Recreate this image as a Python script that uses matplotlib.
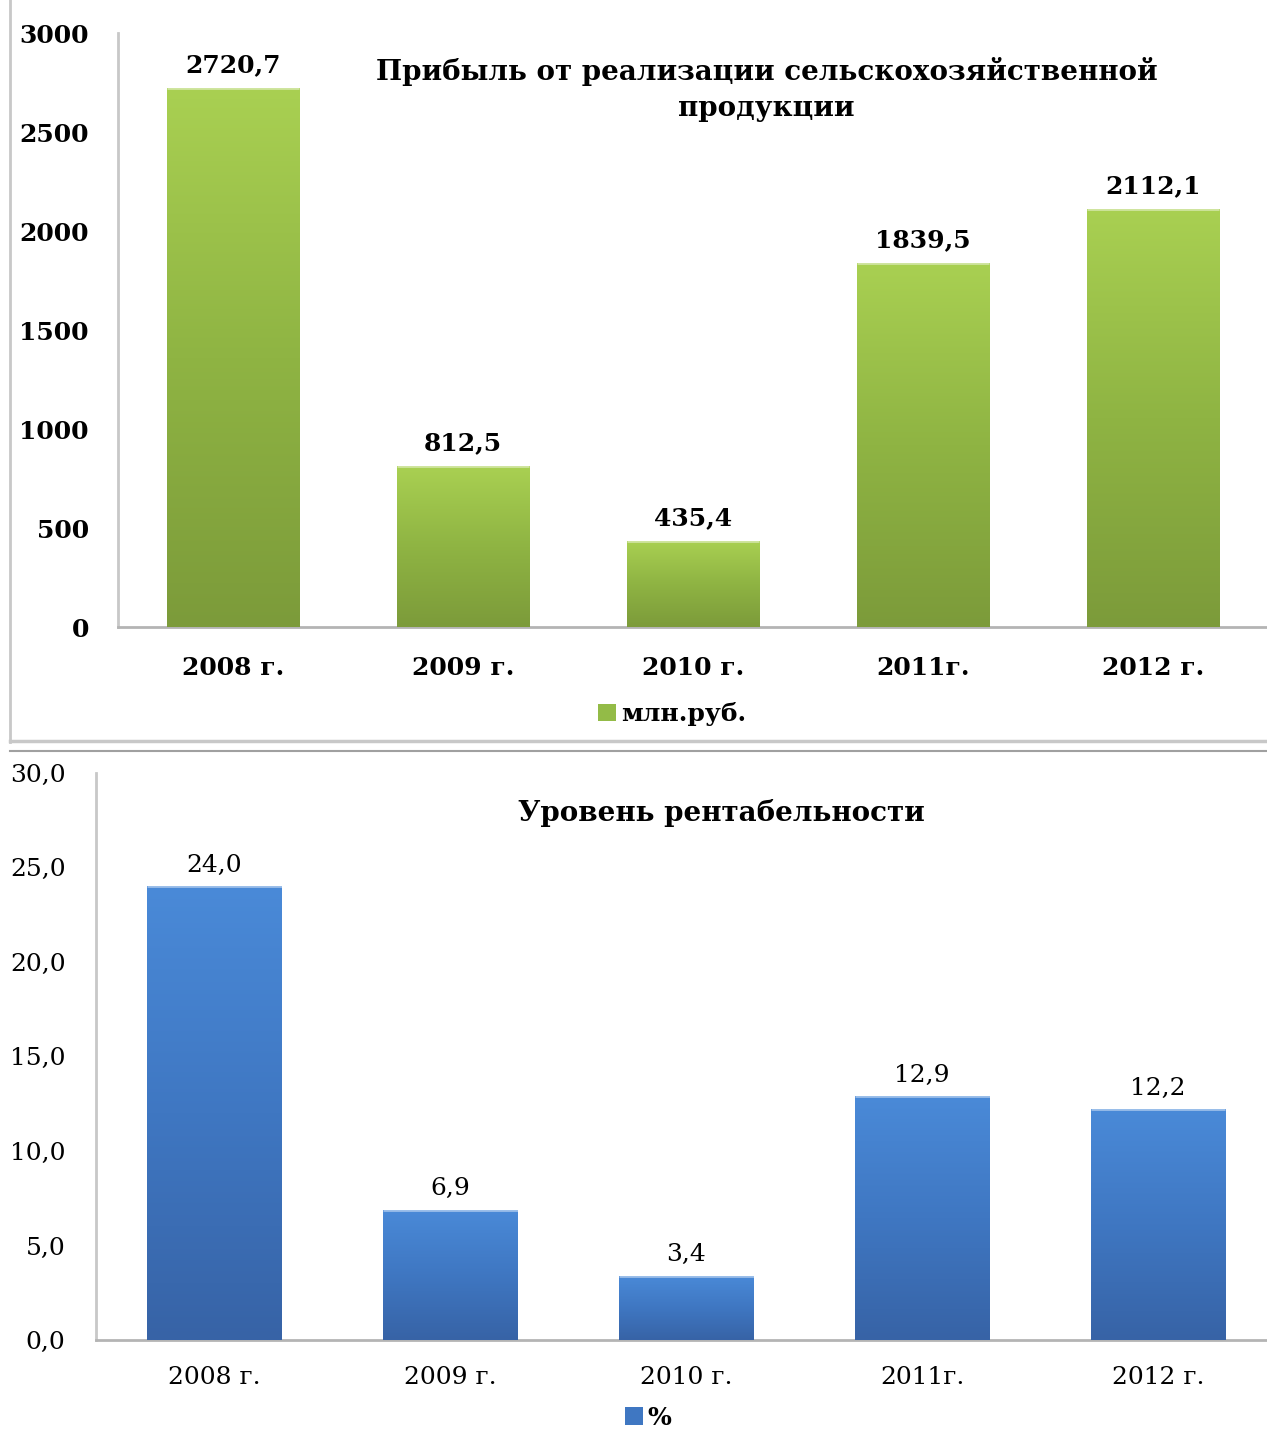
import numpy as np
import matplotlib
matplotlib.use("Agg")
import matplotlib.pyplot as plt
from matplotlib.colors import LinearSegmentedColormap
from matplotlib.lines import Line2D
from matplotlib.patches import Patch

plt.rcParams["font.family"] = ["DejaVu Serif"]

years = ["2008 г.", "2009 г.", "2010 г.", "2011г.", "2012 г."]
profit = [2720.7, 812.5, 435.4, 1839.5, 2112.1]
profit_labels = ["2720,7", "812,5", "435,4", "1839,5", "2112,1"]
rent = [24.0, 6.9, 3.4, 12.9, 12.2]
rent_labels = ["24,0", "6,9", "3,4", "12,9", "12,2"]

green = LinearSegmentedColormap.from_list("g", ["#7c9b3a", "#8fb443", "#a9d052"])
blue = LinearSegmentedColormap.from_list("b", ["#3763a6", "#3f77c2", "#4a8ad8"])


def gradient_bars(ax, values, cmap, width):
    bars = ax.bar(range(len(values)), values, width=width, color="none",
                  edgecolor="none", zorder=3)
    grad = np.linspace(0, 1, 256).reshape(-1, 1)
    for b in bars:
        x0, y0 = b.get_x(), b.get_y()
        w, h = b.get_width(), b.get_height()
        im = ax.imshow(grad, cmap=cmap, origin="lower", aspect="auto",
                       extent=(x0, x0 + w, y0, y0 + h), zorder=3)
        im.set_clip_path(b)
        # thin highlight at the top edge
        ax.plot([x0, x0 + w], [y0 + h, y0 + h], color="white", alpha=0.45,
                lw=2, zorder=4, solid_capstyle="butt")
    return bars


def style_axes(ax):
    for s in ["top", "right"]:
        ax.spines[s].set_visible(False)
    ax.spines["left"].set_color("#c8c8c8")
    ax.spines["left"].set_linewidth(2)
    ax.spines["bottom"].set_color("#b4b4b4")
    ax.spines["bottom"].set_linewidth(2)
    ax.tick_params(length=0)
    ax.set_xlim(-0.5, 4.5)


fig = plt.figure(figsize=(12.67, 14.29), dpi=100)

# top panel
ax1 = fig.add_axes([0.0931, 0.5612, 0.9077, 0.4157])
gradient_bars(ax1, profit, green, 0.575)
ax1.set_ylim(0, 3000)
ax1.set_yticks(range(0, 3001, 500))
ax1.set_yticklabels([str(v) for v in range(0, 3001, 500)],
                    fontsize=18, fontweight="bold")
ax1.set_xticks(range(len(years)))
ax1.set_xticklabels(years, fontsize=18, fontweight="bold")
ax1.tick_params(axis="y", pad=21)
ax1.tick_params(axis="x", pad=21)
style_axes(ax1)
for i, (v, t) in enumerate(zip(profit, profit_labels)):
    ax1.text(i, v + 55, t, ha="center", va="bottom", fontsize=18,
             fontweight="bold")
ax1.text(0.564, 0.905, "Прибыль от реализации сельскохозяйственной\nпродукции",
         transform=ax1.transAxes, ha="center", va="center", fontsize=20,
         fontweight="bold", linespacing=1.4)
ax1.legend(handles=[Patch(facecolor="#93bb47")], labels=["млн.руб."],
           loc="center", bbox_to_anchor=(0.482, -0.147), frameon=False,
           prop={"size": 18, "weight": "bold"}, handlelength=0.7,
           handleheight=0.7, handletextpad=0.2)

# bottom panel
ax2 = fig.add_axes([0.0758, 0.0623, 0.9313, 0.3968])
gradient_bars(ax2, rent, blue, 0.572)
ax2.set_ylim(0, 30)
ax2.set_yticks(np.arange(0, 31, 5))
ax2.set_yticklabels([f"{v},0" for v in range(0, 31, 5)], fontsize=18)
ax2.set_xticks(range(len(years)))
ax2.set_xticklabels(years, fontsize=18)
ax2.tick_params(axis="y", pad=22)
ax2.tick_params(axis="x", pad=19)
style_axes(ax2)
for i, (v, t) in enumerate(zip(rent, rent_labels)):
    ax2.text(i, v + 0.5, t, ha="center", va="bottom", fontsize=18)
ax2.text(0.53, 0.93, "Уровень рентабельности", transform=ax2.transAxes,
         ha="center", va="center", fontsize=20, fontweight="bold")
ax2.legend(handles=[Patch(facecolor="#3f77c2")], labels=["%"],
           loc="center", bbox_to_anchor=(0.468, -0.137), frameon=False,
           prop={"size": 18, "weight": "bold"}, handlelength=0.7,
           handleheight=0.7, handletextpad=0.2)

# frame lines separating the two panels
fig.add_artist(Line2D([10 / 1267, 10 / 1267], [1, 1 - 742 / 1429],
                      color="#c8c8c8", lw=2))
fig.add_artist(Line2D([10 / 1267, 1], [1 - 741 / 1429, 1 - 741 / 1429],
                      color="#c8c8c8", lw=2.5))
fig.add_artist(Line2D([10 / 1267, 1], [1 - 751 / 1429, 1 - 751 / 1429],
                      color="#a0a0a0", lw=1.5))

fig.savefig("out.png", dpi=100)
